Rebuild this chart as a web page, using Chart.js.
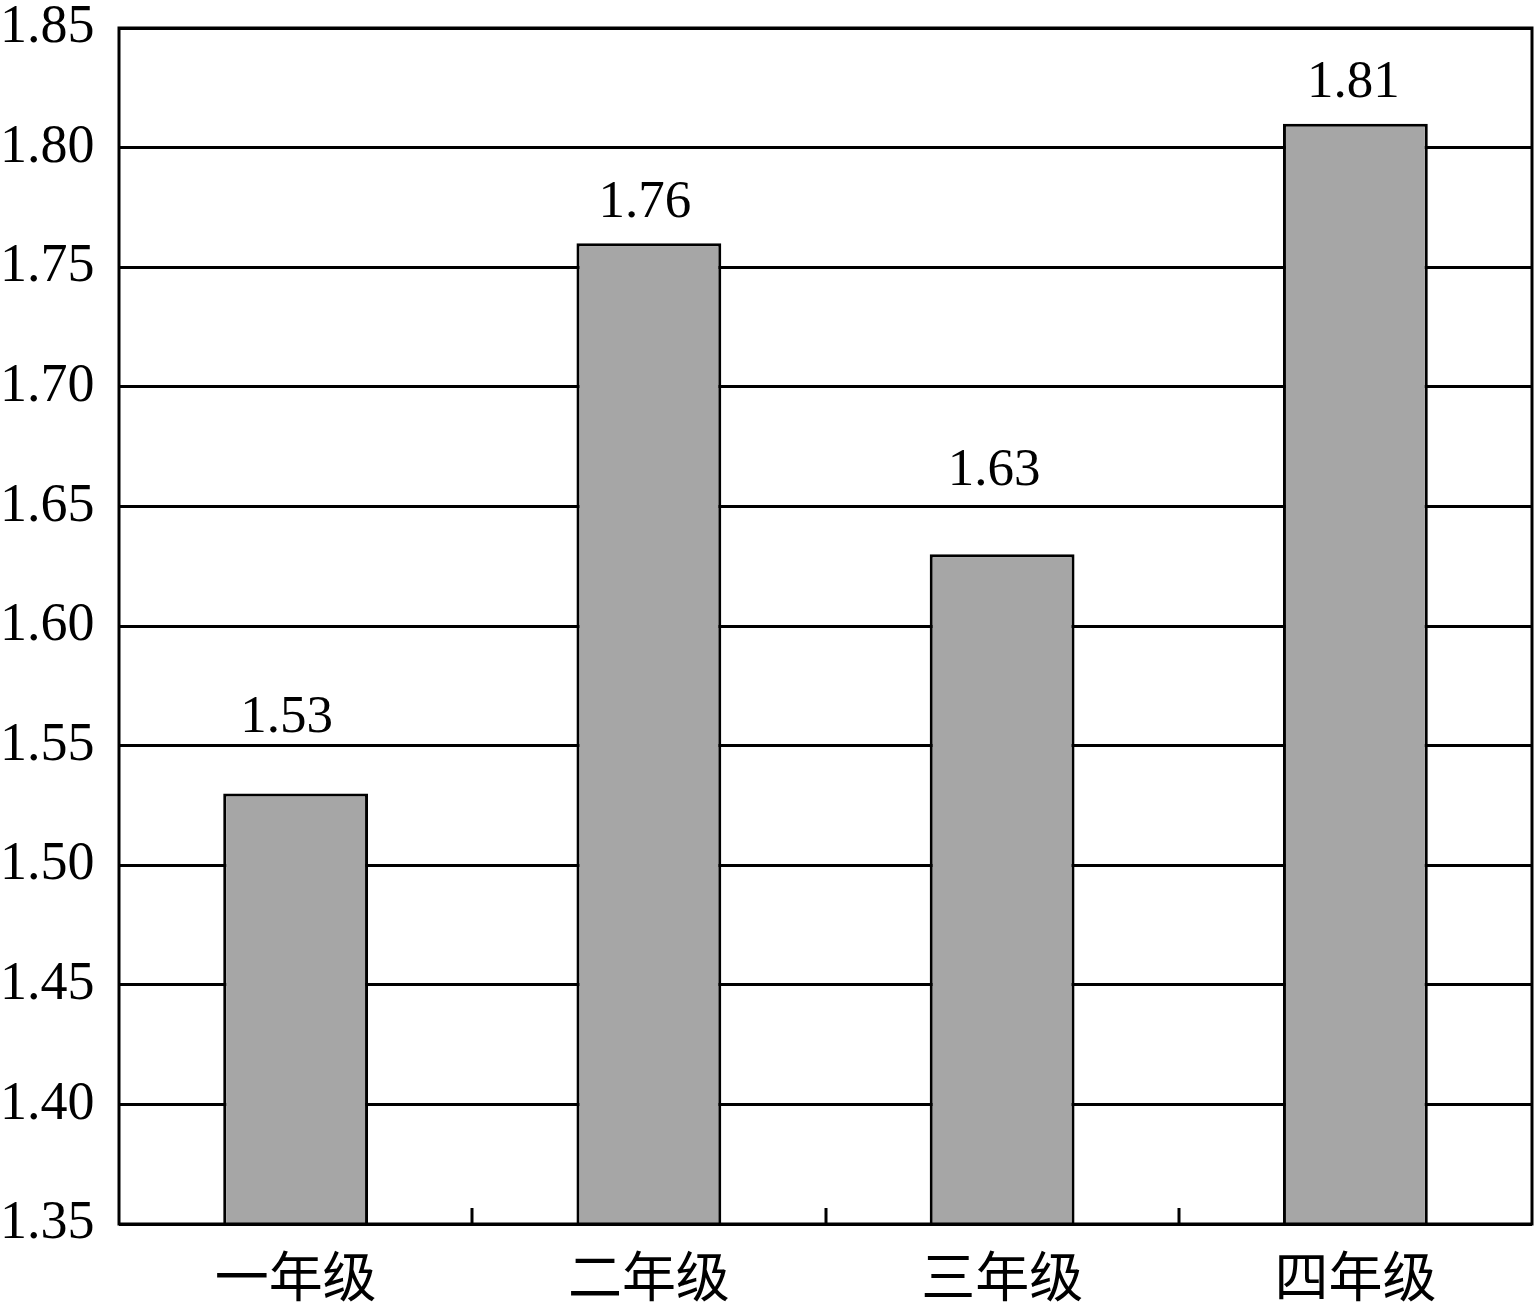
<!DOCTYPE html>
<html>
<head>
<meta charset="utf-8">
<script src="https://cdn.jsdelivr.net/npm/chart.js@4/dist/chart.umd.min.js"></script>
<style>
  html, body { margin: 0; padding: 0; background: #fff; }
  #wrap { width: 1536px; height: 1311px; }
</style>
</head>
<body>
<div id="wrap"><canvas id="chart"></canvas></div>
<script>
// grades and their values
let grades = ["一年级", "二年级", "三年级", "四年级"];
let values = [1.53, 1.76, 1.63, 1.81];
let yTicks = [1.35, 1.40, 1.45, 1.50, 1.55, 1.60, 1.65, 1.70, 1.75, 1.80, 1.85];

let serif = "'Liberation Serif', 'Times New Roman', 'Noto Sans CJK SC', serif";

// frame round the plot, inner ticks between categories, value labels
let decorPlugin = {
      id: 'decor',
      afterDatasetsDraw: (chart, args, opts) => {
            let ctx = chart.ctx;
            let area = chart.chartArea;
            let xs = chart.scales.x;
            ctx.save();
            ctx.strokeStyle = '#000';
            ctx.lineWidth = 3;
            ctx.strokeRect(area.left, area.top, area.right - area.left, area.bottom - area.top);
            for (var i = 1; i < grades.length; i++) {
                  let x = Math.round((xs.getPixelForTick(i - 1) + xs.getPixelForTick(i)) / 2);
                  ctx.beginPath();
                  ctx.moveTo(x, area.bottom);
                  ctx.lineTo(x, area.bottom - 16);
                  ctx.stroke();
            }
            ctx.fillStyle = '#000';
            ctx.font = "53px " + serif;
            ctx.textAlign = 'center';
            ctx.textBaseline = 'bottom';
            let meta = chart.getDatasetMeta(0);
            meta.data.forEach((bar, i) => {
                  ctx.fillText(values[i].toFixed(2), bar.x + opts.shifts[i], bar.y - opts.gaps[i]);
            });
            ctx.restore();
      }
};

new Chart(document.getElementById('chart').getContext('2d'), {
      type: 'bar',
      data: {
            labels: grades,
            datasets: [{
                  data: values,
                  backgroundColor: '#a6a6a6',
                  borderColor: '#000',
                  borderWidth: 3,
                  borderSkipped: false,
                  categoryPercentage: 1,
                  barPercentage: 0.41
            }]
      },
      options: {
            responsive: true,
            maintainAspectRatio: false,
            animation: false,
            layout: { padding: { top: 28, right: 4, left: 0, bottom: 0 } },
            plugins: {
                  legend: { display: false },
                  tooltip: { enabled: false },
                  decor: { gaps: [49, 14, 57, 14], shifts: [-9, -4, -8, -2] }
            },
            scales: {
                  x: {
                        grid: { display: false },
                        border: { display: false },
                        ticks: {
                              color: '#000',
                              padding: 18,
                              font: { family: serif, size: 54 }
                        },
                        afterFit: (scale) => { scale.height = 87; }
                  },
                  y: {
                        min: 1.35,
                        max: 1.85,
                        afterBuildTicks: (scale) => {
                              scale.ticks = yTicks.map(v => ({ value: v }));
                        },
                        grid: { color: '#000', lineWidth: 3, drawTicks: false },
                        border: { display: false },
                        ticks: {
                              color: '#000',
                              crossAlign: 'far',
                              padding: 0,
                              font: { family: serif, size: 54, lineHeight: 1 },
                              callback: (v) => v.toFixed(2)
                        },
                        afterFit: (scale) => {
                              scale.width = 119;
                              scale.paddingTop = 0;
                              scale.paddingBottom = 0;
                        }
                  }
            }
      },
      plugins: [decorPlugin]
});
</script>
</body>
</html>
